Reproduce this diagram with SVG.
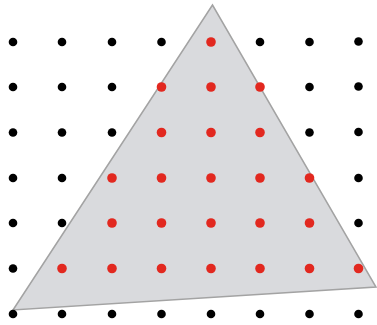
<svg xmlns="http://www.w3.org/2000/svg" width="377" height="325" viewBox="0 0 377 325">
<defs>
<style>
.tri{fill:#d9dadd;stroke:#a3a3a3;stroke-width:1.5;stroke-linejoin:miter}
.b{fill:#000}
.r{fill:#e2281f}
</style>
</defs>
<rect width="377" height="325" fill="#fff"/>
<g id="triangle"><polygon class="tri" points="212.5,5 13,310 376,287"/></g>
<g id="dots">
<g class="b">
<circle cx="13" cy="42" r="4.3"/><circle cx="62" cy="42" r="4.3"/><circle cx="112" cy="42" r="4.3"/><circle cx="161.5" cy="42" r="4.3"/><circle cx="260" cy="42" r="4.3"/><circle cx="309.5" cy="42" r="4.3"/><circle cx="358.5" cy="41.5" r="4.3"/>
<circle cx="13" cy="87" r="4.3"/><circle cx="62" cy="87" r="4.3"/><circle cx="112" cy="87" r="4.3"/><circle cx="309.5" cy="87" r="4.3"/><circle cx="358.5" cy="86.5" r="4.3"/>
<circle cx="13" cy="132.5" r="4.3"/><circle cx="62" cy="132.5" r="4.3"/><circle cx="112" cy="132.5" r="4.3"/><circle cx="309.5" cy="132.5" r="4.3"/><circle cx="358.5" cy="132" r="4.3"/>
<circle cx="13" cy="178" r="4.3"/><circle cx="62" cy="178" r="4.3"/><circle cx="358.5" cy="178" r="4.3"/>
<circle cx="13" cy="223" r="4.3"/><circle cx="62" cy="223" r="4.3"/><circle cx="358.5" cy="223" r="4.3"/>
<circle cx="13" cy="268.5" r="4.3"/>
<circle cx="13" cy="314" r="4.3"/><circle cx="62" cy="314" r="4.3"/><circle cx="112" cy="314" r="4.3"/><circle cx="161.5" cy="314" r="4.3"/><circle cx="211" cy="314" r="4.3"/><circle cx="260" cy="314" r="4.3"/><circle cx="309.5" cy="314" r="4.3"/><circle cx="358.5" cy="314" r="4.3"/>
</g>
<g class="r">
<circle cx="211" cy="42" r="4.8"/>
<circle cx="161.5" cy="87" r="4.8"/><circle cx="211" cy="87" r="4.8"/><circle cx="260" cy="87" r="4.8"/>
<circle cx="161.5" cy="132.5" r="4.8"/><circle cx="211" cy="132.5" r="4.8"/><circle cx="260" cy="132.5" r="4.8"/>
<circle cx="112" cy="178" r="4.8"/><circle cx="161.5" cy="178" r="4.8"/><circle cx="211" cy="178" r="4.8"/><circle cx="260" cy="178" r="4.8"/><circle cx="309.5" cy="178" r="4.8"/>
<circle cx="112" cy="223" r="4.8"/><circle cx="161.5" cy="223" r="4.8"/><circle cx="211" cy="223" r="4.8"/><circle cx="260" cy="223" r="4.8"/><circle cx="309.5" cy="223" r="4.8"/>
<circle cx="62" cy="268.5" r="4.8"/><circle cx="112" cy="268.5" r="4.8"/><circle cx="161.5" cy="268.5" r="4.8"/><circle cx="211" cy="268.5" r="4.8"/><circle cx="260" cy="268.5" r="4.8"/><circle cx="309.5" cy="268.5" r="4.8"/><circle cx="358.5" cy="268.5" r="4.8"/>
</g>
</g>
</svg>
